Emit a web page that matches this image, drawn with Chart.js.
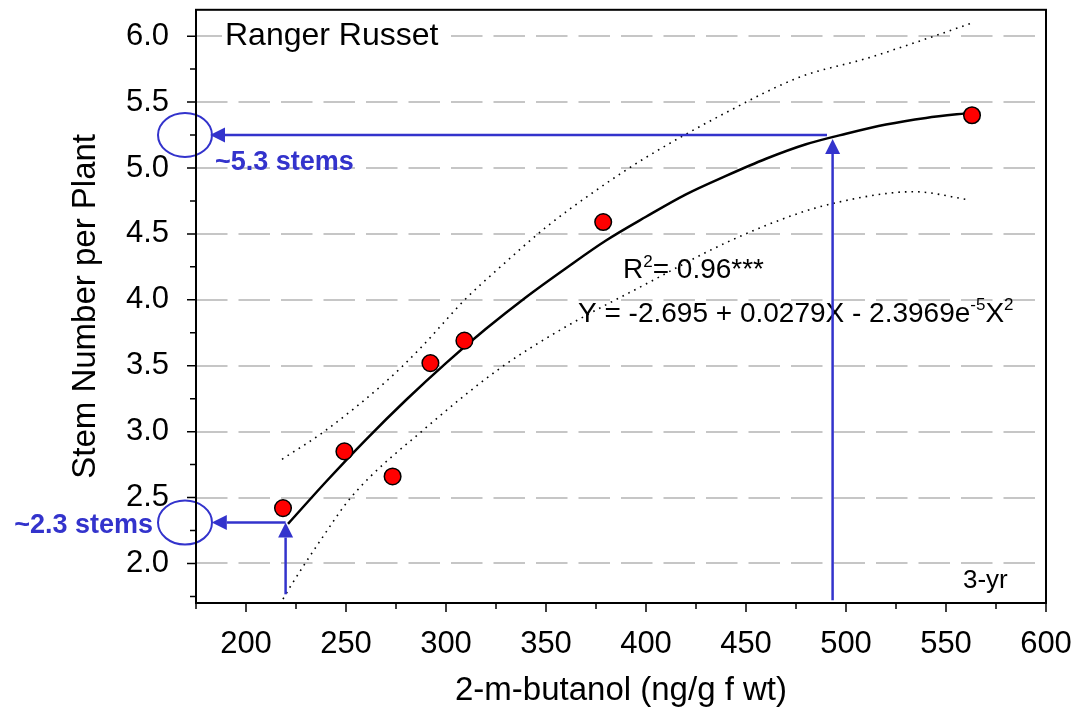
<!DOCTYPE html>
<html><head><meta charset="utf-8">
<script src="https://cdn.jsdelivr.net/npm/chart.js@4.4.0/dist/chart.umd.min.js"></script>
<style>html,body{margin:0;padding:0;background:#fff;}canvas{display:block;}</style>
</head><body>
<canvas id="c" width="1080" height="725"></canvas>
<script>
// ---- data ----
const butanol = [218.5, 249.2, 273.3, 292.2, 309.2, 378.6, 563.0];
const stems   = [2.42, 2.85, 2.66, 3.52, 3.69, 4.59, 5.40];

const fitX = [221, 240, 260, 280, 300, 320, 340, 360, 380, 400, 420, 440, 460, 480, 500, 520, 540, 563];
const fitY = [2.30, 2.62, 2.94, 3.24, 3.52, 3.78, 4.02, 4.24, 4.45, 4.63, 4.80, 4.94, 5.07, 5.18, 5.26, 5.33, 5.38, 5.42];

const upperX = [218, 239, 270, 287, 310, 325, 350, 375, 400, 440, 477, 510, 544, 563];
const upperY = [2.79, 3.00, 3.38, 3.63, 4.01, 4.22, 4.55, 4.83, 5.08, 5.42, 5.69, 5.83, 6.00, 6.10];

const lowerX = [218.5, 222, 237, 253, 290, 327, 357, 400, 441, 477, 496, 522, 534, 561];
const lowerY = [1.73, 1.82, 2.17, 2.51, 3.03, 3.48, 3.77, 4.12, 4.44, 4.66, 4.74, 4.81, 4.82, 4.76];

const xTickLabels = ['200', '250', '300', '350', '400', '450', '500', '550', '600'];
const xMinorTicks = [175, 225, 275, 325, 375, 425, 475, 525, 575];
const yTickLabels = ['2.0', '2.5', '3.0', '3.5', '4.0', '4.5', '5.0', '5.5', '6.0'];
const yMinorTicks = [1.75, 2.25, 2.75, 3.25, 3.75, 4.25, 4.75, 5.25, 5.75];

// read-off annotations (data units)
const readHigh = { x: 493.3, y: 5.25, tipY: 5.22, fromY: 1.72, endX: 490.5, tipX: 182, label: '~5.3 stems' };
const readLow  = { x: 219.8, y: 2.31, tipY: 2.31, fromY: 1.766, endX: 219.8, tipX: 182.9, label: '~2.3 stems' };
const circleX = 169.5;

const FAMILY = "'Liberation Sans', Arial, Helvetica, sans-serif";
const BLUE = '#3333cc';

function pts(xs, ys) { return xs.map((x, i) => ({ x: x, y: ys[i] })); }

function rich(ctx, x, y, parts, color) {
  let cx = x;
  ctx.fillStyle = color;
  ctx.textBaseline = 'alphabetic';
  ctx.textAlign = 'left';
  parts.forEach(p => {
    ctx.font = (p.bold ? 'bold ' : '') + p.size + 'px ' + FAMILY;
    ctx.fillText(p.t, cx, y - (p.rise || 0));
    cx += ctx.measureText(p.t).width;
  });
}

function arrow(ctx, x1, y1, x2, y2, head, half) {
  const ang = Math.atan2(y2 - y1, x2 - x1);
  const bx = x2 - head * Math.cos(ang), by = y2 - head * Math.sin(ang);
  ctx.beginPath(); ctx.moveTo(x1, y1); ctx.lineTo(bx, by); ctx.stroke();
  ctx.beginPath(); ctx.moveTo(x2, y2);
  ctx.lineTo(bx + half * Math.sin(ang), by - half * Math.cos(ang));
  ctx.lineTo(bx - half * Math.sin(ang), by + half * Math.cos(ang));
  ctx.closePath(); ctx.fill();
}

const decor = {
  id: 'decor',
  beforeDatasetsDraw(chart) {
    const ctx = chart.ctx, a = chart.chartArea, ys = chart.scales.y;
    ctx.save();
    ctx.strokeStyle = '#c6c6c6'; ctx.lineWidth = 2; ctx.setLineDash([31.5, 11]);
    yTickLabels.forEach(l => {
      const y = Math.round(ys.getPixelForValue(parseFloat(l)));
      ctx.beginPath(); ctx.moveTo(a.left, y); ctx.lineTo(a.right - 11, y); ctx.stroke();
    });
    ctx.setLineDash([]);
    ctx.fillStyle = '#fff';
    ctx.fillRect(222, 16, 227, 36);
    ctx.restore();
  },
  afterDatasetsDraw(chart) {
    const ctx = chart.ctx, xs = chart.scales.x, ys = chart.scales.y;
    ctx.save();
    rich(ctx, 225, 45, [{ t: 'Ranger Russet', size: 32 }], '#000');
    rich(ctx, 623, 278, [{ t: 'R', size: 28 }, { t: '2', size: 17, rise: 11 }, { t: '= 0.96***', size: 28 }], '#000');
    rich(ctx, 578, 322, [{ t: 'Y = -2.695 + 0.0279X - 2.3969e', size: 28 }, { t: '-5', size: 17, rise: 12 },
                         { t: 'X', size: 28 }, { t: '2', size: 17, rise: 12 }], '#000');
    rich(ctx, 963, 588, [{ t: '3-yr', size: 26 }], '#000');

    ctx.strokeStyle = BLUE; ctx.fillStyle = BLUE; ctx.lineWidth = 2.5;
    [readHigh, readLow].forEach(r => {
      const vx = xs.getPixelForValue(r.x);
      arrow(ctx, vx, ys.getPixelForValue(r.fromY), vx, ys.getPixelForValue(r.tipY), 15, 7.5);
      const hy = ys.getPixelForValue(r.y);
      arrow(ctx, xs.getPixelForValue(r.endX), hy, xs.getPixelForValue(r.tipX), hy, 15, 7.5);
      ctx.lineWidth = 2;
      ctx.beginPath();
      ctx.ellipse(xs.getPixelForValue(circleX), hy, 27, 22, 0, 0, Math.PI * 2);
      ctx.stroke();
      ctx.lineWidth = 2.5;
    });
    ctx.font = 'bold 27px ' + FAMILY;
    ctx.fillStyle = BLUE;
    ctx.textAlign = 'left';
    ctx.fillText(readHigh.label, 215, 170);
    ctx.textAlign = 'right';
    ctx.fillText(readLow.label, 153, 533);
    ctx.restore();
  },
  afterDraw(chart) {
    const ctx = chart.ctx, a = chart.chartArea, xs = chart.scales.x, ys = chart.scales.y;
    ctx.save();
    ctx.strokeStyle = '#000';
    ctx.lineWidth = 2;
    ctx.strokeRect(a.left, a.top, a.right - a.left, a.bottom - a.top);
    ctx.lineWidth = 1.5;
    ctx.beginPath();
    yTickLabels.forEach(l => { const y = ys.getPixelForValue(parseFloat(l)); ctx.moveTo(a.left - 9, y); ctx.lineTo(a.left, y); });
    yMinorTicks.forEach(v => { const y = ys.getPixelForValue(v); ctx.moveTo(a.left - 6, y); ctx.lineTo(a.left, y); });
    xTickLabels.forEach(l => { const x = xs.getPixelForValue(Number(l)); ctx.moveTo(x, a.bottom); ctx.lineTo(x, a.bottom + 9); });
    xMinorTicks.forEach(v => { const x = xs.getPixelForValue(v); ctx.moveTo(x, a.bottom); ctx.lineTo(x, a.bottom + 6); });
    ctx.stroke();
    ctx.restore();
  }
};

Chart.defaults.font.family = FAMILY;
Chart.defaults.color = '#000';

new Chart(document.getElementById('c'), {
  type: 'scatter',
  data: {
    datasets: [
      { label: 'observed', data: pts(butanol, stems), pointRadius: 8.3, pointHoverRadius: 8.3,
        backgroundColor: '#ff0000', borderColor: '#000', borderWidth: 1.5, order: 0 },
      { label: 'fit', data: pts(fitX, fitY), showLine: true, pointRadius: 0, borderColor: '#000',
        borderWidth: 2.5, cubicInterpolationMode: 'monotone', order: 1 },
      { label: 'upper', data: pts(upperX, upperY), showLine: true, pointRadius: 0, borderColor: '#000',
        borderWidth: 1.6, borderDash: [1.6, 5], cubicInterpolationMode: 'monotone', order: 2 },
      { label: 'lower', data: pts(lowerX, lowerY), showLine: true, pointRadius: 0, borderColor: '#000',
        borderWidth: 1.6, borderDash: [1.6, 5], cubicInterpolationMode: 'monotone', order: 2 }
    ]
  },
  options: {
    responsive: false,
    animation: false,
    devicePixelRatio: 1,
    layout: { padding: { top: 7, right: 34, left: 0, bottom: 0 } },
    plugins: { legend: { display: false }, tooltip: { enabled: false }, title: { display: false } },
    scales: {
      x: {
        type: 'linear', min: 175, max: 600,
        grid: { display: false, drawTicks: false }, border: { display: false },
        afterBuildTicks: s => { s.ticks = xTickLabels.map(l => ({ value: Number(l) })); },
        afterFit: s => { s.height = 122; s.paddingLeft = 0; s.paddingRight = 0; },
        ticks: { font: { size: 31 }, color: '#000', padding: 23, maxRotation: 0, autoSkip: false,
                 callback: v => String(v) },
        title: { display: true, text: '2-m-butanol (ng/g f wt)', font: { size: 33 }, color: '#000',
                 padding: { top: 0, bottom: 14 } }
      },
      y: {
        type: 'linear', min: 1.7, max: 6.2,
        grid: { display: false, drawTicks: false }, border: { display: false },
        afterBuildTicks: s => { s.ticks = yTickLabels.map(l => ({ value: parseFloat(l) })); },
        afterFit: s => { s.width = 196; s.paddingTop = 0; s.paddingBottom = 0; },
        ticks: { font: { size: 31 }, color: '#000', padding: 27, autoSkip: false,
                 callback: v => Number(v).toFixed(1) },
        title: { display: true, text: 'Stem Number per Plant', font: { size: 33 }, color: '#000',
                 padding: { top: 66, bottom: 0 } }
      }
    }
  },
  plugins: [decor]
});
</script>
</body></html>
